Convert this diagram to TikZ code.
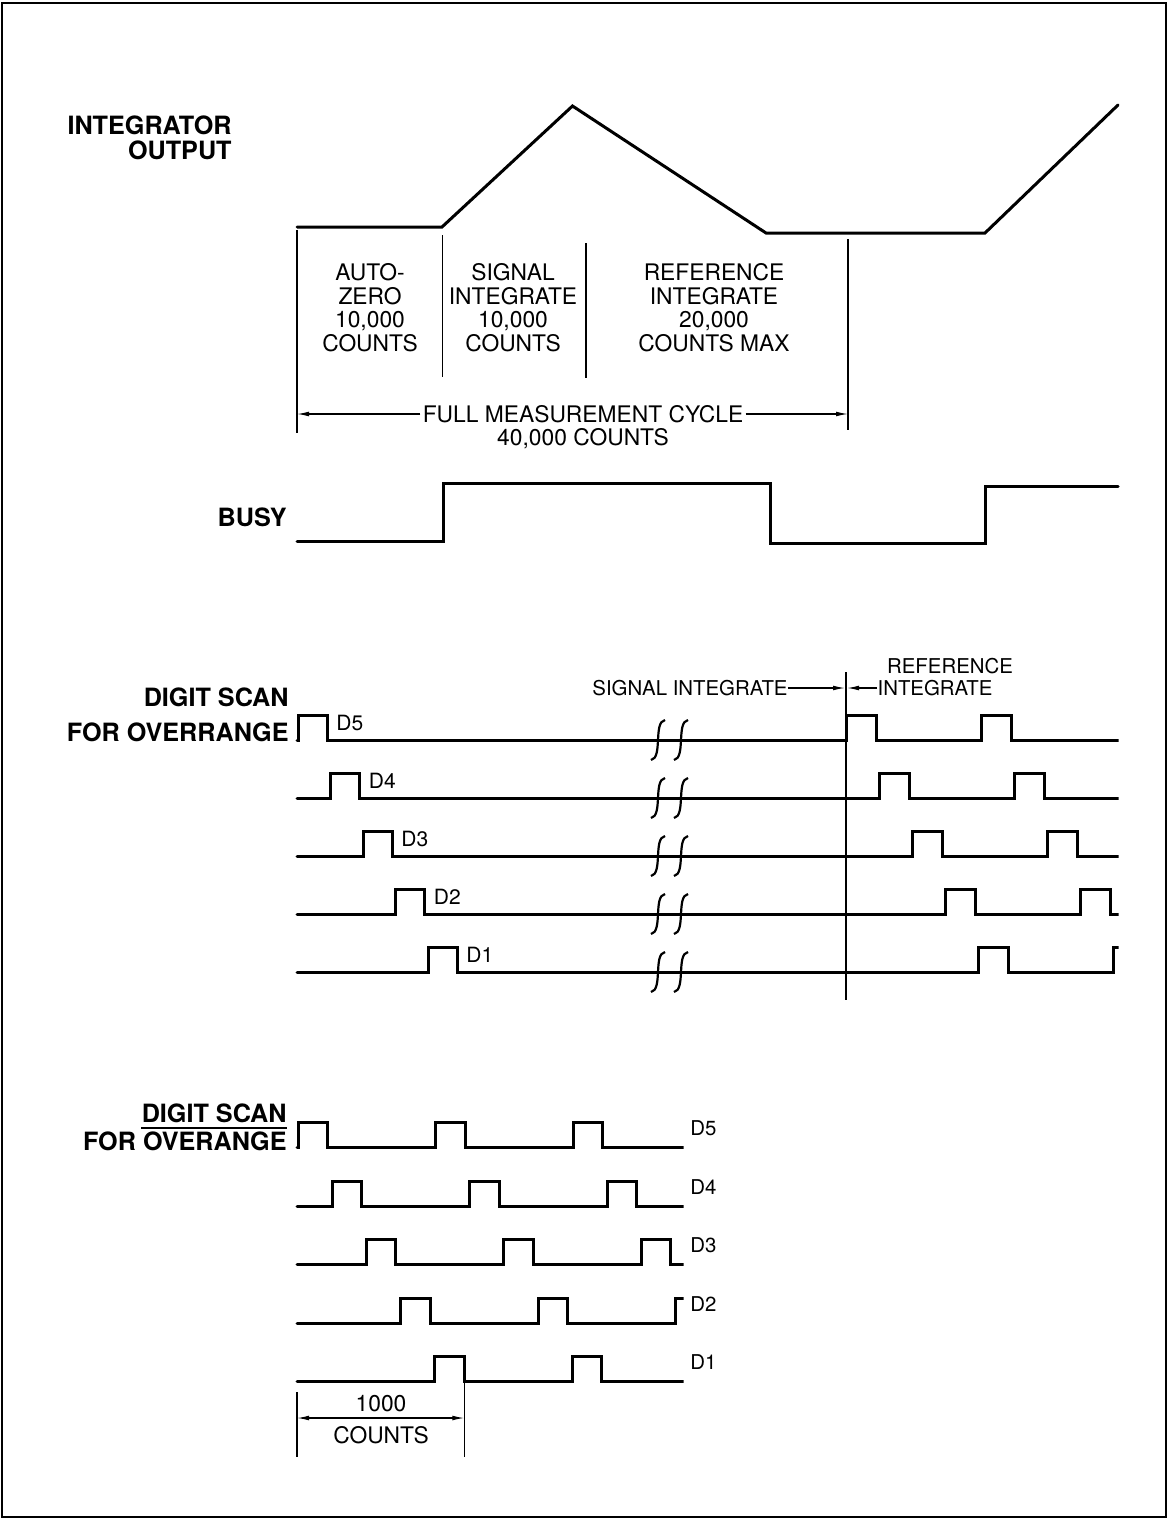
\documentclass[tikz,border=0pt]{standalone}
\usepackage{fontspec}
\setmainfont{TeX Gyre Heros}
\usetikzlibrary{arrows.meta}

\begin{document}
\begin{tikzpicture}[
    x=0.5pt, y=-0.5pt,
    wave/.style={line width=1.5pt, line cap=round},
    guide/.style={line width=0.75pt},
    brk/.style={line width=1.1pt},
    dimarrow/.style={line width=0.6pt, -{Latex[length=6pt,width=2.4pt]}},
    dimboth/.style={line width=0.6pt, {Latex[length=6pt,width=2.4pt]}-{Latex[length=6pt,width=2.4pt]}},
    tag/.style={font=\fontsize{12.6}{12.5}\selectfont\bfseries, align=right, inner sep=0pt, anchor=east},
    phase/.style={font=\fontsize{11.4}{11.75}\selectfont, align=center, inner sep=0pt},
    note/.style={font=\fontsize{10.2}{11}\selectfont, inner sep=0pt},
    digit/.style={font=\fontsize{10.5}{11}\selectfont, inner sep=0pt, anchor=west}
]
\useasboundingbox (0,0) rectangle (1169,1520);
\draw[line width=1pt] (2,3) rectangle (1166,1517);

\node[tag] (intlab) at (232,137.5) {INTEGRATOR\\OUTPUT};
\draw[wave] (297,227) -- (442,227) -- (572.5,106) -- (766,233) -- (985,233) -- (1118,105);
\draw[guide] (297,230) -- (297,433);
\draw[guide] (442.5,235) -- (442.5,377);
\draw[guide] (586,243) -- (586,378);
\draw[guide] (848,239) -- (848,430);
\node[phase] (autozero) at (370,307.5) {AUTO-\\ZERO\\10,000\\COUNTS};
\node[phase] (sigphase) at (513,307.5) {SIGNAL\\INTEGRATE\\10,000\\COUNTS};
\node[phase] (refphase) at (714,307.5) {REFERENCE\\INTEGRATE\\20,000\\COUNTS MAX};
\coordinate (cycL) at (297,414);
\coordinate (cycR) at (848,414);
\node[phase, inner sep=1pt] (fullcyc) at (583,414) {FULL MEASUREMENT CYCLE};
\node[phase] (cyccount) at (583,439) {40,000 COUNTS};
\draw[dimarrow] (fullcyc) -- (cycL);
\draw[dimarrow] (fullcyc) -- (cycR);

\node[tag] (busy) at (287,517) {BUSY};
\draw[wave] (297,541) -- (443,541) -- (443,483) -- (770,483) -- (770,543) -- (985,543) -- (985,486) -- (1118,486);

\node[tag, font=\fontsize{12.6}{17.5}\selectfont\bfseries] (scanA) at (289,714.5) {DIGIT SCAN\\FOR OVERRANGE};
\node[note] (sigint) at (690,688) {SIGNAL INTEGRATE};
\node[note] (refint) at (935,688) {INTEGRATE};
\node[note] (refword) at (950,666) {REFERENCE};
\coordinate (phaseL) at (845,688);
\coordinate (phaseR) at (847,688);
\draw[dimarrow] (sigint) -- (phaseL);
\draw[dimarrow] (refint) -- (phaseR);
\draw[guide] (846,672) -- (846,1000);

\begin{scope}
\clip (290,650) rectangle (1118.5,1010);
\foreach \i/\d in {0/5,1/4,2/3,3/2,4/1} {
  \pgfmathsetmacro\y{740+58*\i}
  \pgfmathsetmacro\a{298+32.5*\i}
  \pgfmathsetmacro\b{846.5+33*\i}
  \pgfmathsetmacro\c{981+33*\i}
  \draw[wave] (297,\y) -- (\a,\y) -- ++(0,-25) -- ++(29,0) -- ++(0,25)
     -- (\b,\y) -- ++(0,-25) -- ++(30,0) -- ++(0,25)
     -- (\c,\y) -- ++(0,-25) -- ++(30,0) -- ++(0,25) -- (1200,\y);
  \node[digit] (mid\d) at (\a+38,\y-17) {D\d};
  \foreach \bx in {658,681}
    \draw[brk] (\bx+7,\y-20) .. controls (\bx-5,\y-18) and (\bx+5,\y+18) .. (\bx-7,\y+20);
}
\end{scope}

\node[tag] (scanB) at (287,1113) {DIGIT SCAN};
\node[tag] (ovrB) at (287,1141) {FOR OVERANGE};
\draw[line width=0.9pt] ([yshift=-2.5pt]scanB.south west) -- ([yshift=-2.5pt]scanB.south east);

\begin{scope}
\clip (290,1100) rectangle (683.5,1400);
\foreach \i in {0,...,4} {
  \pgfmathsetmacro\y{1147.5+58.5*\i}
  \pgfmathsetmacro\a{298+34.2*\i}
  \pgfmathsetmacro\b{\a+137.5}
  \pgfmathsetmacro\c{\a+275}
  \draw[wave] (297,\y) -- (\a,\y) -- ++(0,-25) -- ++(29.5,0) -- ++(0,25)
     -- (\b,\y) -- ++(0,-25) -- ++(29.5,0) -- ++(0,25)
     -- (\c,\y) -- ++(0,-25) -- ++(29.5,0) -- ++(0,25) -- (760,\y);
}
\end{scope}
\foreach \i/\d in {0/5,1/4,2/3,3/2,4/1}
  \node[digit, font=\fontsize{10.2}{11}\selectfont] (bot\d) at (690,1147.5+58.5*\i-19) {D\d};

\coordinate (cntL) at (297,1418);
\coordinate (cntR) at (464.3,1418);
\draw[guide] (297,1392) -- (297,1457);
\draw[guide] (464.3,1381.5) -- (464.3,1457);
\node[phase] (cntnum) at (381,1404) {1000};
\node[phase] (cntword) at (381,1435) {COUNTS};
\draw[dimboth] (cntL) -- (cntR);
\end{tikzpicture}
\end{document}
